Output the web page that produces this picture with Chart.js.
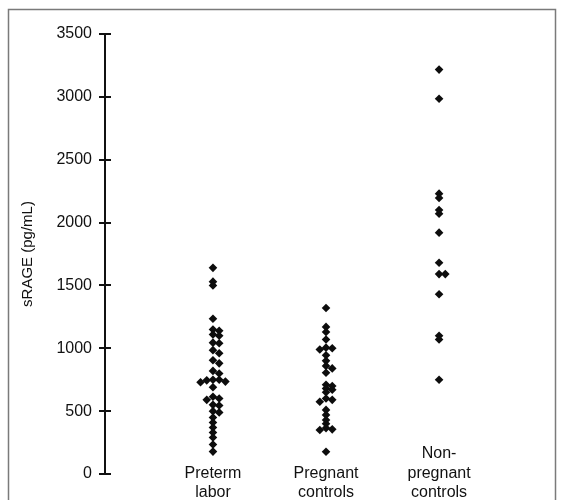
<!DOCTYPE html>
<html>
<head>
<meta charset="utf-8">
<script src="https://cdn.jsdelivr.net/npm/chart.js@4/dist/chart.umd.min.js"></script>
<style>
  html, body { margin: 0; padding: 0; background: #fff; }
  canvas { display: block; }
</style>
</head>
<body>
<canvas id="c" width="561" height="500"></canvas>
<script>
// ---- data ----
const categories = [["Preterm", "labor"], ["Pregnant", "controls"], ["Non-", "pregnant", "controls"]];
const pretermLabor = [1640, 1530, 1500, 1235, 1150, 1140, 1110, 1100, 1045, 1040, 985, 960, 905, 880, 820, 800,
  750, 745, 735, 730, 750, 690, 615, 600, 590, 550, 545, 500, 490, 450, 410, 370, 330, 290, 235, 178];
const pregnantControls = [1320, 1170, 1130, 1070, 1005, 1000, 990, 945, 900, 860, 840, 805, 710, 700, 680, 670,
  650, 600, 590, 575, 510, 470, 430, 400, 365, 355, 350, 177];
const nonPregnantControls = [3217, 2985, 2230, 2195, 2100, 2070, 1920, 1680, 1590, 1590, 1430, 1100, 1070, 750];
const yTicks = [0, 500, 1000, 1500, 2000, 2500, 3000, 3500];
const yTitle = "sRAGE (pg/mL)";

// ---- beeswarm-style layout of overlapping dots (deterministic) ----
function swarm(values, catIndex) {
  const step = 0.055, thr = 30;
  const placed = [];
  const sorted = values.slice().sort((a, b) => b - a);
  const order = [0, 1, -1, 2, -2, 3, -3, 4, -4];
  sorted.forEach(v => {
    for (const k of order) {
      const off = k * step;
      const clash = placed.some(p => Math.abs(p.off - off) < step * 0.9 && Math.abs(p.y - v) < thr);
      if (!clash) { placed.push({ off, y: v }); break; }
    }
  });
  return placed.map(p => ({ x: catIndex + p.off, y: p.y }));
}
const seriesList = [pretermLabor, pregnantControls, nonPregnantControls];

const frame = {
  id: 'frame',
  beforeInit(chart) { chart.ctx.letterSpacing = '1px'; },
  beforeDraw(chart) {
    const ctx = chart.ctx;
    ctx.save();
    ctx.fillStyle = '#fff';
    ctx.fillRect(0, 0, chart.width, chart.height);
    ctx.strokeStyle = '#7a7a7a';
    ctx.lineWidth = 1.5;
    ctx.strokeRect(8.5, 9.5, 547, 520);
    ctx.restore();
  },
  afterDraw(chart) {
    // inward half of the crossing tick marks
    const ys = chart.scales.y, ctx = chart.ctx;
    ctx.save();
    ctx.strokeStyle = '#111';
    ctx.lineWidth = 2;
    ys.ticks.forEach(t => {
      const py = Math.round(ys.getPixelForValue(t.value));
      ctx.beginPath();
      ctx.moveTo(ys.right, py);
      ctx.lineTo(ys.right + 6, py);
      ctx.stroke();
    });
    ctx.restore();
  }
};

const labelFont = { family: 'Liberation Sans, Arial, sans-serif', size: 16, lineHeight: 1.2 };

new Chart(document.getElementById('c'), {
  type: 'scatter',
  data: {
    datasets: seriesList.map((vals, i) => ({
      label: categories[i].join(' '),
      data: swarm(vals, i + 1),
      pointStyle: 'rectRot',
      pointRadius: 4.3,
      pointHoverRadius: 4.3,
      backgroundColor: '#0d0d0d',
      borderColor: '#0d0d0d',
      borderWidth: 0
    }))
  },
  options: {
    responsive: false,
    animation: false,
    layout: { padding: { left: 10, top: 34, right: 10, bottom: 0 } },
    plugins: { legend: { display: false }, tooltip: { enabled: false } },
    scales: {
      x: {
        type: 'linear',
        min: 0.045,
        max: 3.99,
        afterBuildTicks: s => { s.ticks = categories.map((c, i) => ({ value: i + 1 })); },
        afterFit: s => { s.height = 26; s._computeLabelArea = () => undefined; },
        border: { display: false },
        grid: { display: false, drawTicks: false, tickLength: 0 },
        ticks: {
          autoSkip: false,
          maxRotation: 0,
          minRotation: 0,
          crossAlign: 'far',
          padding: -20,
          color: '#111',
          font: labelFont,
          callback: (v) => categories[Math.round(v) - 1]
        }
      },
      y: {
        min: 0,
        max: 3500,
        afterBuildTicks: s => { s.ticks = yTicks.map(v => ({ value: v })); },
        afterFit: s => { s.width = 95; },
        border: { display: true, color: '#111', width: 2 },
        grid: { drawOnChartArea: false, drawTicks: true, tickLength: 6, color: '#111', lineWidth: 2 },
        ticks: {
          padding: 7,
          color: '#111',
          font: labelFont,
          callback: v => String(v)
        },
        title: {
          display: true,
          text: yTitle,
          color: '#111',
          padding: { top: 9, bottom: 0 },
          font: { family: 'Liberation Sans, Arial, sans-serif', size: 15, lineHeight: 1.2 }
        }
      }
    }
  },
  plugins: [frame]
});
</script>
</body>
</html>
